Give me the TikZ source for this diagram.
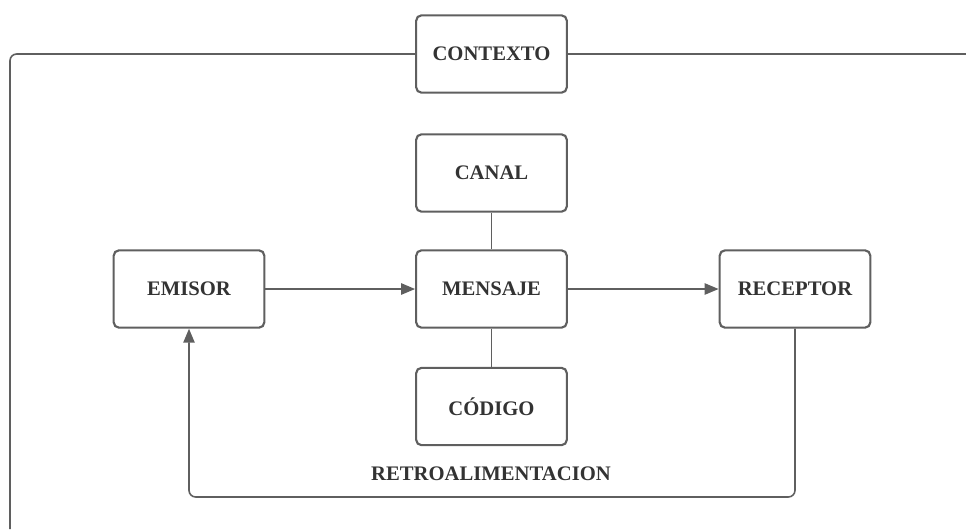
\documentclass[tikz,border=0pt]{standalone}
\usepackage{fontspec}
\setmainfont{Liberation Serif}
\usetikzlibrary{arrows.meta}
\definecolor{lc}{HTML}{5F5F5F}
\definecolor{tc}{HTML}{333333}
\tikzset{
  box/.style={draw=lc, line width=1.6pt, rounded corners=4pt, fill=white,
    minimum width=113pt, minimum height=58pt, inner sep=0pt,
    text=tc, font=\fontsize{15.5}{18}\selectfont\bfseries},
  conn/.style={draw=lc, line width=1.2pt},
  arr/.style={conn, -{Triangle[length=10.5pt,width=8.5pt]}},
}
\begin{document}
\begin{tikzpicture}[x=0.75pt,y=-0.75pt]
\useasboundingbox (0,0) rectangle (966,529);
\node[box] (ctx) at (491.5,54) {CONTEXTO};
\node[box] (can) at (491.5,173) {CANAL};
\node[box] (men) at (491.5,289) {MENSAJE};
\node[box] (emi) at (189,289) {EMISOR};
\node[box] (rec) at (795,289) {RECEPTOR};
\node[box] (cod) at (491.5,406.5) {CÓDIGO};
\node[text=tc, font=\fontsize{15.5}{18}\selectfont\bfseries] (ret) at (491,474) {RETROALIMENTACION};
\coordinate (cR) at (966,54);
\coordinate (cB) at (10,529);
\coordinate (fbR) at (795,497);
\coordinate (fbL) at (189,497);
\draw[conn] (ctx.east) -- (cR);
\draw[conn, rounded corners=5pt] (ctx.west) -| (cB);
\draw[arr] (emi.east) -- (men.west);
\draw[arr] (men.east) -- (rec.west);
\draw[conn] (can.south) -- (men.north);
\draw[conn] (men.south) -- (cod.north);
\draw[arr, rounded corners=5pt] (rec.south) -- (fbR) -- (fbL) -- (emi.south);
\end{tikzpicture}
\end{document}
